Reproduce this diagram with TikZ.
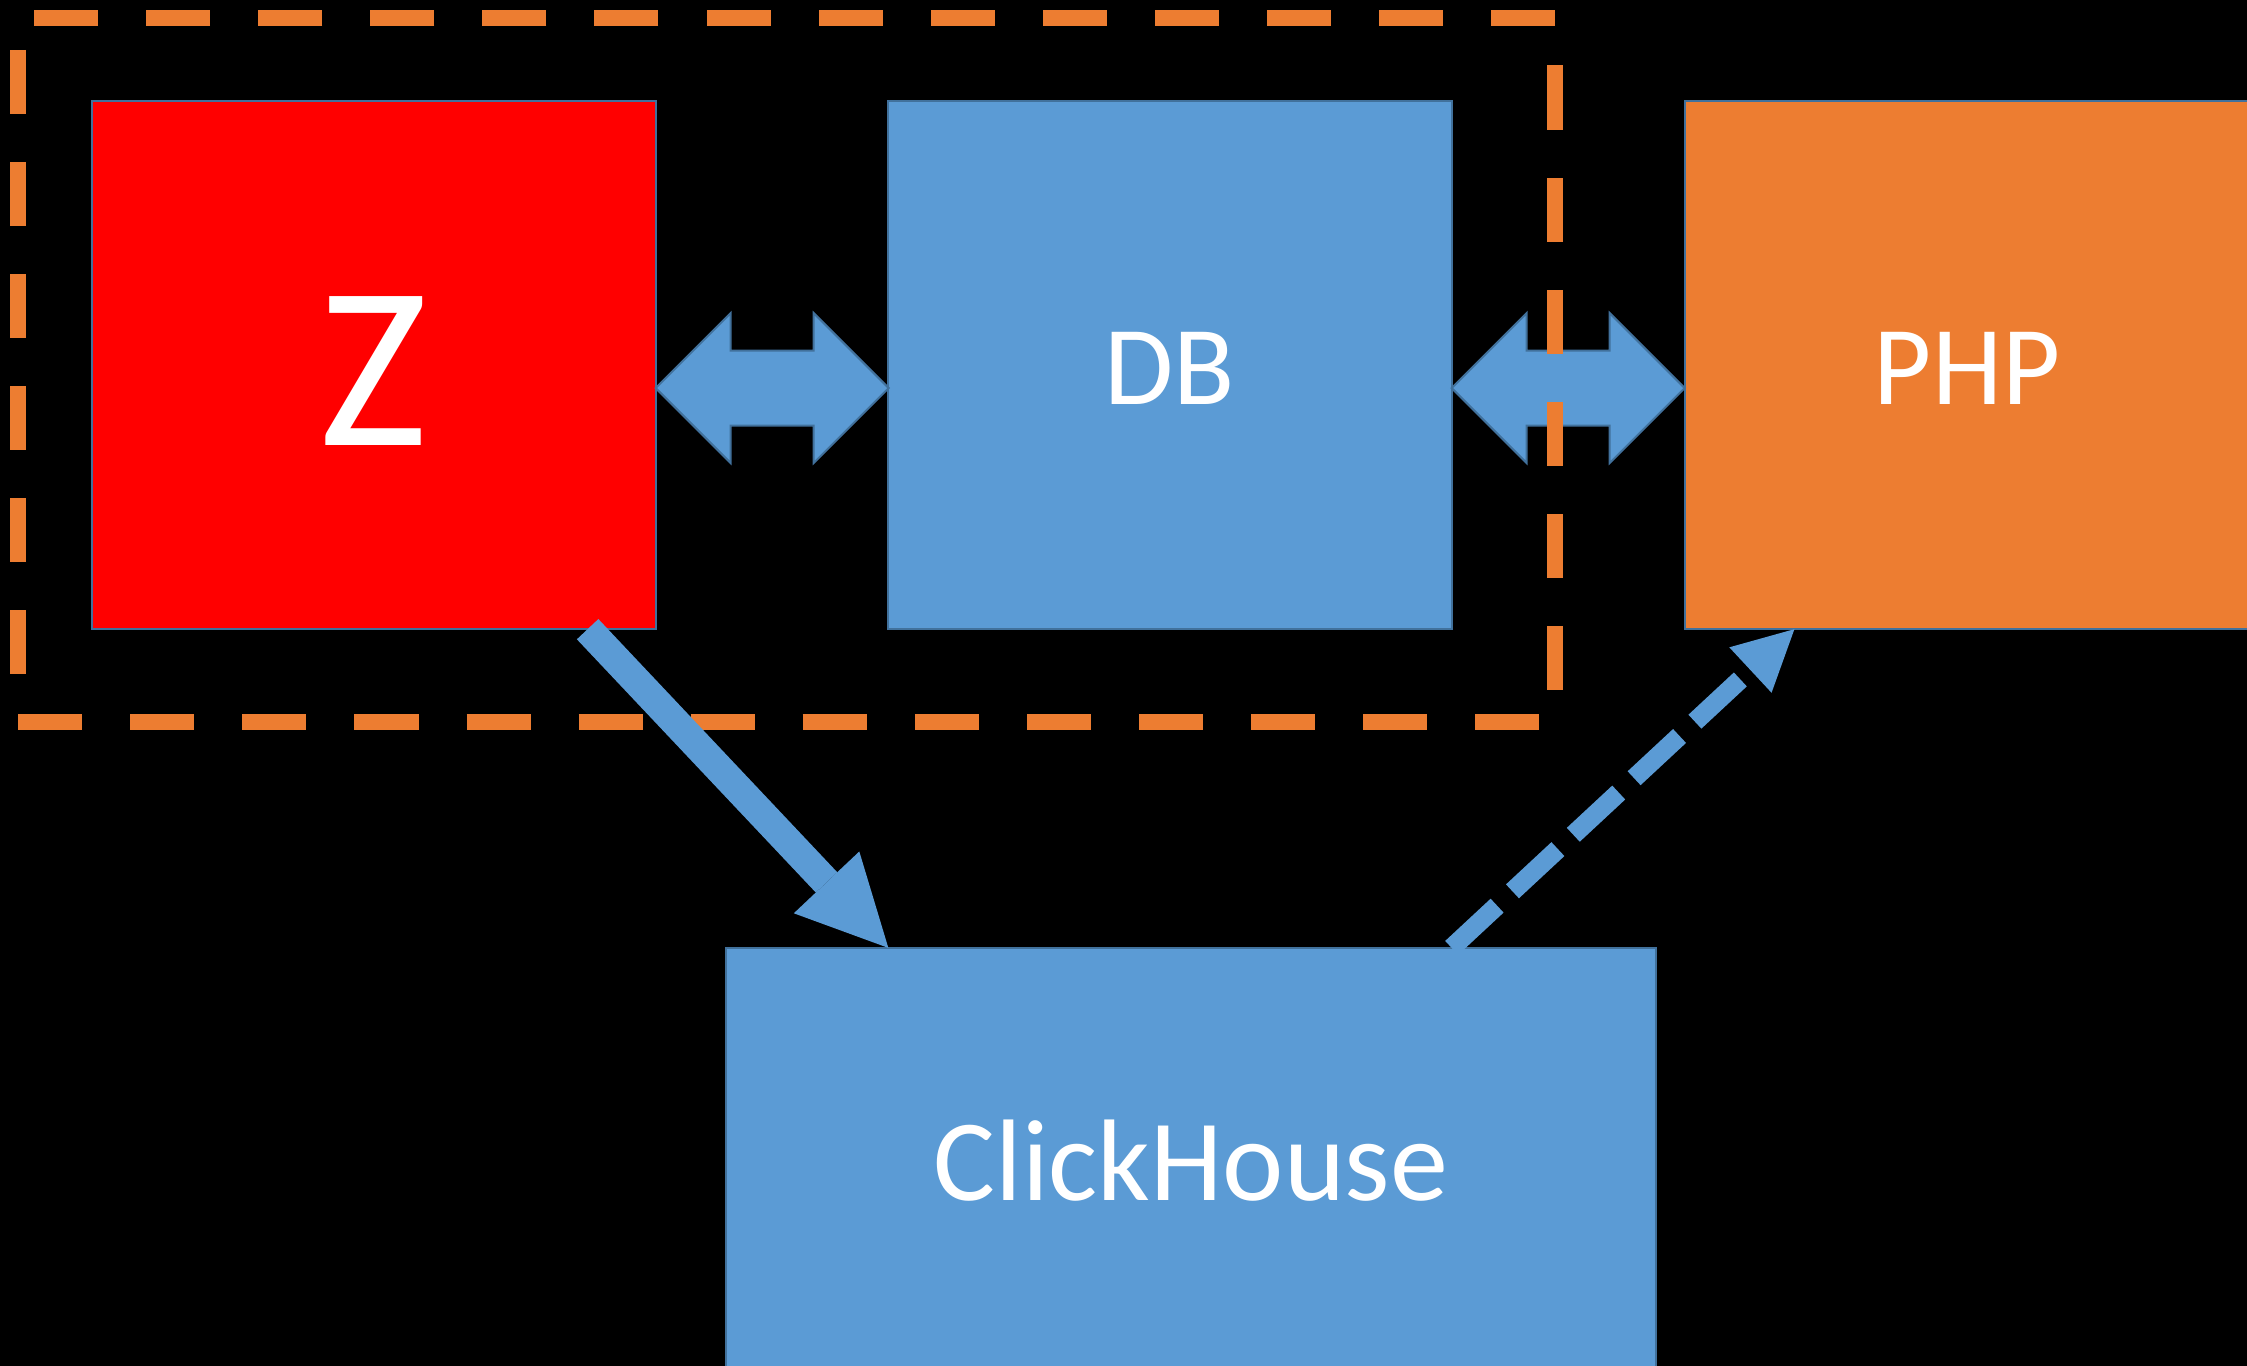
\documentclass[tikz,border=0pt]{standalone}
\usepackage{fontspec}
\setmainfont{Carlito}
\usepackage{tikz}
\usetikzlibrary{arrows.meta,calc}

\definecolor{zred}{HTML}{FF0000}
\definecolor{dbblue}{HTML}{5B9BD5}
\definecolor{phporange}{HTML}{ED7D31}
\definecolor{edgeblue}{HTML}{41719C}

\newcommand{\lowered}[2]{\raisebox{-#1}[\height][0pt]{#2}}

\begin{document}
\begin{tikzpicture}[x=0.01cm,y=-0.01cm,
		box/.style={draw=edgeblue,line width=0.02cm,inner sep=0pt,outer sep=0pt,text=white,minimum width=5.63cm,minimum height=5.28cm},
		biglabel/.style={font=\fontsize{32}{38}\selectfont},
		dblarrow/.style={fill=dbblue,draw=edgeblue,line width=0.02cm},
		groupframe/.style={draw=phporange,line width=0.16cm,dash pattern=on 0.64cm off 0.48cm},
		flow/.style={draw=dbblue,line width=0.295cm,-{Triangle[length=0.9cm,width=0.9cm,line width=0pt]}},
		query/.style={draw=dbblue,line width=0.19cm,dash pattern=on 0.62cm off 0.21cm,-{Triangle[length=0.6cm,width=0.62cm,line width=0pt]}}]
			\useasboundingbox (0,0) rectangle (2247,1366);
			\fill[black] (0,0) rectangle (2247,1366);

			\node[box,fill=zred,font=\fontsize{66}{70}\selectfont] (z) at (374,365) {\lowered{0.06cm}{Z}};
			\node[box,fill=dbblue,biglabel] (db) at (1170,365) {\lowered{0.03cm}{DB}};
			\node[box,fill=phporange,biglabel] (php) at (1967,365) {\lowered{0.03cm}{PHP}};
			\node[box,fill=dbblue,minimum width=9.3cm,minimum height=4.26cm,font=\fontsize{33}{40}\selectfont] (ch) at (1191,1161) {ClickHouse};

			% two-way links
			\draw[dblarrow] ([yshift=-0.23cm]z.east) -- ++(75,-75) -- ++(0,37.5) -- ++(83,0) -- ++(0,-37.5) -- ++(75,75)
				-- ++(-75,75) -- ++(0,-37.5) -- ++(-83,0) -- ++(0,37.5) -- cycle;
			\draw[dblarrow] ([yshift=-0.23cm]db.east) -- ++(75,-75) -- ++(0,37.5) -- ++(83,0) -- ++(0,-37.5) -- ++(75,75)
				-- ++(-75,75) -- ++(0,-37.5) -- ++(-83,0) -- ++(0,37.5) -- cycle;

			\draw[groupframe] (1555,18) -- (18,18) -- (18,722) -- (1555,722) -- cycle;

			\draw[flow] ([xshift=-0.68cm]z.south east) -- (ch.north -| db.west);
			\draw[query] (ch.north -| db.east) -- ([xshift=1.09cm]php.south west);
		\end{tikzpicture}
\end{document}
